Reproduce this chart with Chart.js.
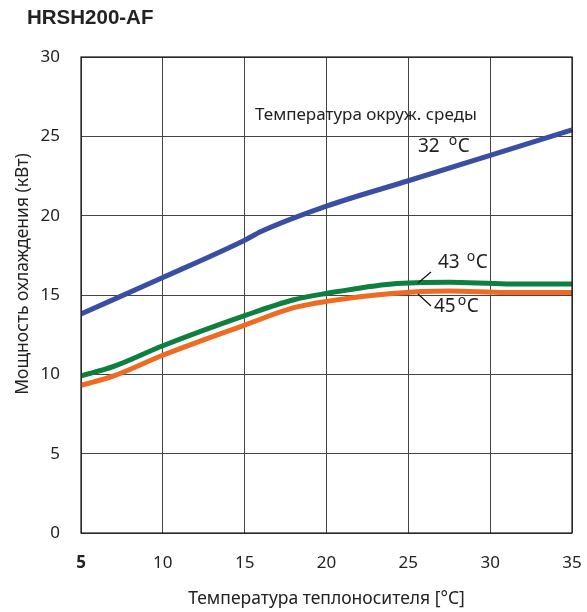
<!DOCTYPE html>
<html>
<head>
<meta charset="utf-8">
<script src="https://cdn.jsdelivr.net/npm/chart.js@4/dist/chart.umd.min.js"></script>
<style>
html,body{margin:0;padding:0;background:#fff;}
#wrap{width:587px;height:612px;position:relative;}
</style>
</head>
<body>
<div id="wrap"><canvas id="c" width="587" height="612"></canvas></div>
<script>
// ---- data ----
const chartTitle = "HRSH200-AF";
const xAxisTitle = "Температура теплоносителя [°C]";
const yAxisTitle = "Мощность охлаждения (кВт)";
const xTicks = [5, 10, 15, 20, 25, 30, 35];
const yTicks = [0, 5, 10, 15, 20, 25, 30];

const series32X = [5, 10, 15, 16, 20, 25, 30, 35];
const series32Y = [13.8, 16.1, 18.45, 19.0, 20.6, 22.2, 23.8, 25.4];

const series43X = [5, 7, 10, 15, 18, 20, 24, 27.5, 31, 35];
const series43Y = [9.9, 10.5, 11.8, 13.7, 14.7, 15.1, 15.7, 15.8, 15.7, 15.7];

const series45X = [5, 7, 10, 15, 18, 20, 24, 27.5, 31, 35];
const series45Y = [9.3, 9.9, 11.2, 13.1, 14.2, 14.6, 15.1, 15.25, 15.15, 15.15];

const seriesNames = ["32", "43", "45"];
const annotationHeader = "Температура окруж. среды";

const toPts = (xs, ys) => xs.map((x, i) => ({x: x, y: ys[i]}));

const FONT = "'Noto Sans', 'Open Sans', sans-serif";

const decor = {
  id: 'decor',
  afterDraw(chart) {
    const ctx = chart.ctx;
    const ca = chart.chartArea;
    ctx.save();
    // border
    ctx.strokeStyle = '#1a1a1a';
    ctx.lineWidth = 1.2;
    ctx.strokeRect(ca.left, ca.top, ca.right - ca.left, ca.bottom - ca.top);
    // title
    ctx.fillStyle = '#222';
    ctx.font = "bold 20.5px 'Liberation Sans', Arial, sans-serif";
    ctx.textAlign = 'left';
    ctx.textBaseline = 'alphabetic';
    ctx.fillText(chartTitle, 27, 24);
    // y axis title
    ctx.save();
    ctx.translate(23, 274);
    ctx.rotate(-Math.PI / 2);
    ctx.font = "17.5px " + FONT;
    ctx.textAlign = 'center';
    ctx.textBaseline = 'middle';
    ctx.fillStyle = '#222';
    ctx.fillText(yAxisTitle, 0, 0);
    ctx.restore();
    // annotation header
    ctx.font = "17px " + FONT;
    ctx.fillStyle = '#222';
    ctx.textAlign = 'left';
    ctx.textBaseline = 'middle';
    ctx.fillText(annotationHeader, 255, 115);
    // degree labels
    function degLabel(num, x, y, gap) {
      ctx.font = "19px " + FONT;
      ctx.textBaseline = 'middle';
      ctx.textAlign = 'left';
      ctx.fillText(num, x, y);
      let w = ctx.measureText(num).width;
      ctx.font = "14px " + FONT;
      ctx.fillText('o', x + w + gap, y - 6);
      let wo = ctx.measureText('o').width;
      ctx.font = "19px " + FONT;
      ctx.fillText('C', x + w + gap + wo + 0.5, y);
    }
    degLabel(seriesNames[0], 418, 147, 9);
    degLabel(seriesNames[1], 438, 263, 7);
    degLabel(seriesNames[2], 434, 307, 2);
    // leader lines
    ctx.strokeStyle = '#111';
    ctx.lineWidth = 1.2;
    ctx.beginPath();
    ctx.moveTo(431, 272); ctx.lineTo(418, 283);
    ctx.moveTo(418, 294); ctx.lineTo(431, 306);
    ctx.stroke();
    ctx.restore();
  }
};

const lineOpts = {borderWidth: 5, pointRadius: 0, cubicInterpolationMode: 'monotone', fill: false};

new Chart(document.getElementById('c'), {
  type: 'line',
  data: {
    datasets: [
      Object.assign({label: seriesNames[0], data: toPts(series32X, series32Y), borderColor: '#3a4ea3'}, lineOpts),
      Object.assign({label: seriesNames[1], data: toPts(series43X, series43Y), borderColor: '#0d7f3f'}, lineOpts),
      Object.assign({label: seriesNames[2], data: toPts(series45X, series45Y), borderColor: '#ef6a23'}, lineOpts)
    ]
  },
  options: {
    responsive: false,
    animation: false,
    events: [],
    layout: {padding: {left: 0, right: 15, top: 57, bottom: 0}},
    plugins: {legend: {display: false}, tooltip: {enabled: false}, title: {display: false}},
    scales: {
      x: {
        type: 'linear', min: 5, max: 35,
        afterBuildTicks: s => { s.ticks = xTicks.map(v => ({value: v})); },
        afterFit: s => { s.height = 79; s.paddingLeft = 0; s.paddingRight = 0; },
        grid: {color: '#444', lineWidth: 1, drawTicks: false},
        border: {display: false},
        ticks: {padding: 20, color: '#222',
          font: c => ({family: FONT, size: 17, weight: (c.tick && c.tick.value === 5) ? 'bold' : 'normal'})},
        title: {display: true, text: xAxisTitle, color: '#222', font: {family: FONT, size: 17.5}, padding: {top: 0, bottom: 2}}
      },
      y: {
        type: 'linear', min: 0, max: 30,
        afterBuildTicks: s => { s.ticks = yTicks.map(v => ({value: v})); },
        afterFit: s => { s.width = 81; s.paddingTop = 0; s.paddingBottom = 0; },
        grid: {color: '#444', lineWidth: 1, drawTicks: false},
        border: {display: false},
        ticks: {padding: 21, color: '#222', font: {family: FONT, size: 17}},
        title: {display: false}
      }
    }
  },
  plugins: [decor]
});
</script>
</body>
</html>
